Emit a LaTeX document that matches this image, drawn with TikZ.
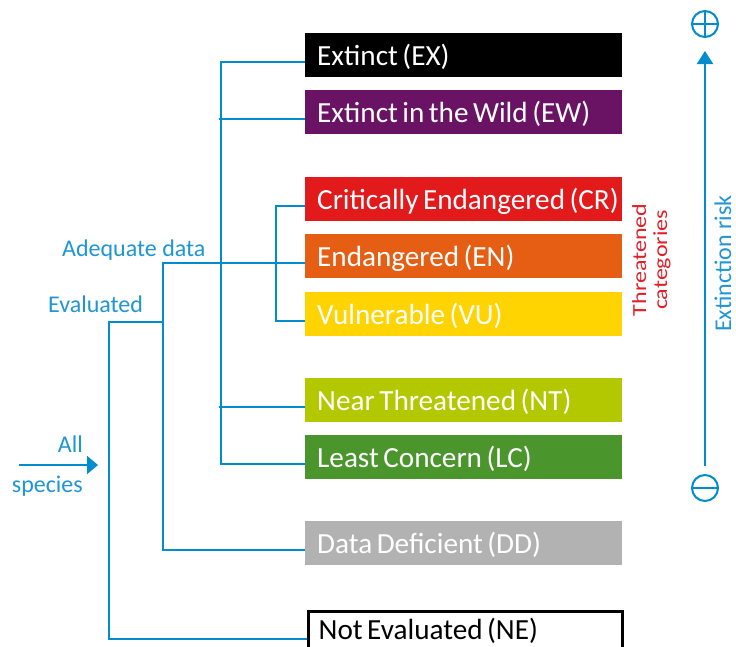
\documentclass[tikz,border=0pt]{standalone}
\usepackage{fontspec}
\setmainfont{Carlito}
\newfontfamily\boxfont{Carlito}
\newcommand\ws{\hspace{4.5pt}}
\usetikzlibrary{arrows.meta,calc}
\definecolor{lineblue}{RGB}{0,140,206}
\definecolor{txtblue}{RGB}{30,150,212}
\definecolor{thrred}{RGB}{226,30,40}
\definecolor{cEX}{RGB}{0,0,0}
\definecolor{cEW}{RGB}{106,18,100}
\definecolor{cCR}{RGB}{226,26,28}
\definecolor{cEN}{RGB}{230,94,20}
\definecolor{cVU}{RGB}{255,212,0}
\definecolor{cNT}{RGB}{180,200,0}
\definecolor{cLC}{RGB}{74,150,45}
\definecolor{cDD}{RGB}{178,178,178}
\begin{document}
\begin{tikzpicture}[x=1pt,y=-1pt,
  catbox/.style={anchor=north west, inner xsep=12pt, inner ysep=9pt,
    minimum width=317pt, text height=23pt, text depth=3pt},
  cattext/.style={anchor=base west, inner sep=0pt, text=white,
    font=\boxfont\fontsize{29.2}{30}\selectfont},
  conn/.style={draw=lineblue, line width=2pt},
  bluelabel/.style={text=txtblue, font=\fontsize{24}{26}\selectfont, inner sep=0pt},
  risksym/.style={circle, draw=lineblue, line width=2pt, minimum size=26pt, inner sep=0pt}
]
\useasboundingbox (0,0) rectangle (736,646);

% category boxes
\node[catbox, fill=cEX] (ex) at (305,33) {};
\node[catbox, fill=cEW] (ew) at (305,90) {};
\node[catbox, fill=cCR] (cr) at (305,177) {};
\node[catbox, fill=cEN] (en) at (305,234) {};
\node[catbox, fill=cVU] (vu) at (305,292) {};
\node[catbox, fill=cNT] (nt) at (305,378) {};
\node[catbox, fill=cLC] (lc) at (305,435) {};
\node[catbox, fill=cDD] (dd) at (305,521) {};
\node[catbox, fill=white, draw=black, line width=3pt, minimum width=314pt,
      inner ysep=7.5pt] (ne) at (306.5,609.5) {};

\node[cattext] (tex) at ([xshift=12pt,yshift=-32pt]ex.north west) {Extinct\ws(EX)};
\node[cattext] (tew) at ([xshift=12pt,yshift=-32pt]ew.north west) {Extinct\ws in\ws the\ws Wild\ws(EW)};
\node[cattext] (tcr) at ([xshift=12pt,yshift=-32pt]cr.north west) {Critically\ws Endangered\ws(CR)};
\node[cattext] (ten) at ([xshift=12pt,yshift=-32pt]en.north west) {Endangered\ws(EN)};
\node[cattext] (tvu) at ([xshift=12pt,yshift=-32pt]vu.north west) {Vulnerable\ws(VU)};
\node[cattext] (tnt) at ([xshift=12pt,yshift=-32pt]nt.north west) {Near\ws Threatened\ws(NT)};
\node[cattext] (tlc) at ([xshift=12pt,yshift=-32pt]lc.north west) {Least\ws Concern\ws(LC)};
\node[cattext] (tdd) at ([xshift=12pt,yshift=-32pt]dd.north west) {Data\ws Deficient\ws(DD)};
\node[cattext, text=black] (tne) at ([xshift=12pt,yshift=-30pt]ne.north west) {Not\ws Evaluated\ws(NE)};

% attachment points
\foreach \b in {ex,ew,cr,en,vu,nt,lc,dd,ne}
  \coordinate (p\b) at ([yshift=-7pt]\b.west);
\coordinate (ev) at (163,322);
\coordinate (allstart) at (19,465);
\coordinate (allend) at (98,465);

% connectors
\draw[conn] (pex) -- ++(-84,0) |- (plc);
\draw[conn] (pew) -- ++(-86,0);
\draw[conn] (pnt) -- ++(-86,0);
\draw[conn] (pcr) -- ++(-29,0) |- (pvu);
\draw[conn] (pen) -- ++(-142,0) |- (pdd);
\draw[conn] (pne) -- ++(-198,0) |- (ev);
\draw[conn, -{Triangle[length=11pt,width=18pt]}] (allstart) -- (allend);

% labels
\node[bluelabel, anchor=base west] (adl) at (62,256) {Adequate data};
\node[bluelabel, anchor=base west] (evl) at (48,312.7) {Evaluated};
\node[bluelabel, anchor=base east] (alll) at (83,452.7) {All};
\node[bluelabel, anchor=base east] (spl) at (83,492) {species};

% threatened categories
\node[text=thrred, rotate=90, align=center, inner sep=0pt,
      font=\fontsize{20}{21}\selectfont] (thr) at (651.5,260)
  {\scalebox{1.2}[1]{Threatened}\\\scalebox{1.2}[1]{categories}};

% extinction risk axis
\node[risksym] (plus) at (705,24) {};
\draw[lineblue, line width=2pt] (plus.north) -- (plus.south) (plus.west) -- (plus.east);
\node[risksym] (minus) at (705,488) {};
\draw[lineblue, line width=2pt] (minus.west) -- (minus.east);
\draw[conn, -{Triangle[length=13pt,width=16pt]}] ([yshift=8pt]minus.north) -- ([yshift=-13pt]plus.south);
\node[bluelabel, rotate=90, anchor=base] (risk) at (731,263.5) {Extinction risk};
\end{tikzpicture}
\end{document}
